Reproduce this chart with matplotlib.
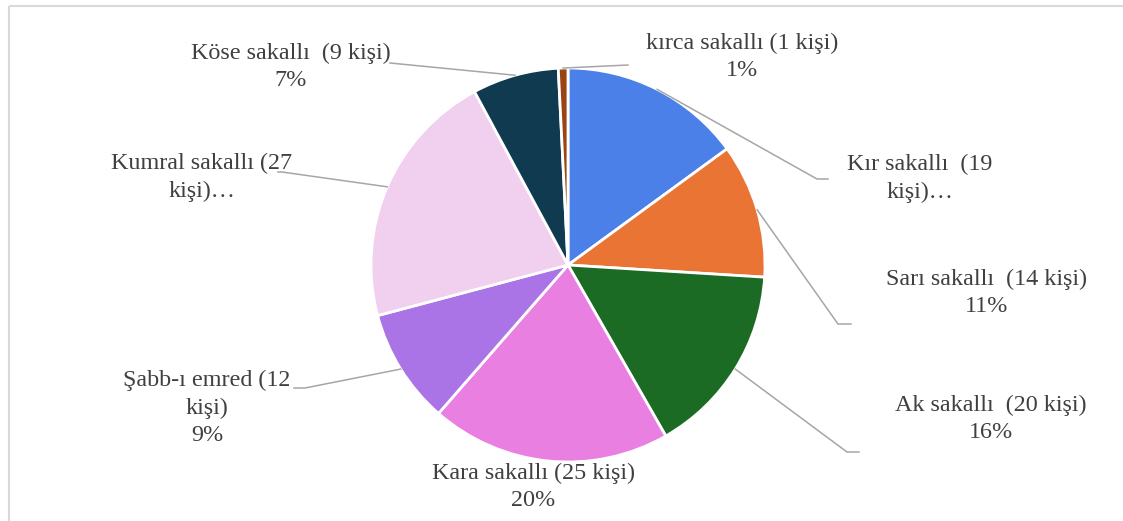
import numpy as np
import matplotlib
matplotlib.use("Agg")
import matplotlib.pyplot as plt

# ---- data ----
categories = ["Kır sakallı", "Sarı sakallı", "Ak sakallı", "Kara sakallı",
              "Şabb-ı emred", "Kumral sakallı", "Köse sakallı", "kırca sakallı"]
counts = [19, 14, 20, 25, 12, 27, 9, 1]
label_texts = ["Kır sakallı  (19\nkişi)…",
               "Sarı sakallı  (14 kişi)\n{p}%",
               "Ak sakallı  (20 kişi)\n{p}%",
               "Kara sakallı (25 kişi)\n{p}%",
               "Şabb-ı emred (12\nkişi)\n{p}%",
               "Kumral sakallı (27\nkişi)…",
               "Köse sakallı  (9 kişi)\n{p}%",
               "kırca sakallı (1 kişi)\n{p}%"]
colors = ["#4a80e8", "#e97433", "#1c6b25", "#e97fe0",
          "#ab74e6", "#f1cfee", "#0f3a50", "#9a4413"]

# ---- layout (pixel coords, y downward) ----
W, H = 1123, 521
center_px = (568, 265)
radius_px = 197
label_pos = [(920, 178), (987, 293), (991, 419), (533, 487),
             (207, 408), (202, 177), (291, 67), (742, 57)]
# leader end points (elbow) and horizontal tail end; None = no leader
leader_end = [((817, 179), (828, 179)),
              ((838, 324), (851, 324)),
              ((847, 452), (859, 452)),
              None,
              ((305, 388), (294, 388)),
              ((282, 172), (278, 172)),
              ((390, 63), (390, 63)),
              ((628, 65), (628, 65))]

fig = plt.figure(figsize=(W / 100, H / 100), dpi=100)
ax = fig.add_axes([0, 0, 1, 1])
ax.set_xlim(0, W)
ax.set_ylim(0, H)
ax.set_aspect("equal")
ax.axis("off")

def Y(y):
    return H - y

# frame
ax.plot([9, 9], [Y(6), -5], color="#d9d9d9", lw=1.5, solid_capstyle="butt")
ax.plot([9, W + 5], [Y(6), Y(6)], color="#d9d9d9", lw=1.5, solid_capstyle="butt")

wedges, _ = ax.pie(counts, colors=colors, startangle=90, counterclock=False,
                   center=(center_px[0], Y(center_px[1])), radius=radius_px,
                   wedgeprops=dict(edgecolor="white", linewidth=2.0),
                   frame=True)
ax.set_xlim(0, W)
ax.set_ylim(0, H)
ax.axis("off")

total = sum(counts)
pcts = [int(round(c / total * 100)) for c in counts]

for i, w in enumerate(wedges):
    txt = label_texts[i].format(p=pcts[i])
    lx, ly = label_pos[i]
    ax.text(lx, Y(ly), txt, ha="center", va="center", multialignment="center",
            fontsize=17.4, family="Liberation Serif", color="#404040",
            linespacing=1.42)
    if leader_end[i] is not None:
        ang = np.deg2rad((w.theta1 + w.theta2) / 2)
        cx, cy = w.center
        sx = cx + w.r * np.cos(ang)
        sy = cy + w.r * np.sin(ang)
        (ex, ey), (tx, ty) = leader_end[i]
        ax.plot([sx, ex, tx], [sy, Y(ey), Y(ty)], color="#a6a6a6", lw=1.1,
                solid_joinstyle="miter")

fig.savefig("out.png", dpi=100)
